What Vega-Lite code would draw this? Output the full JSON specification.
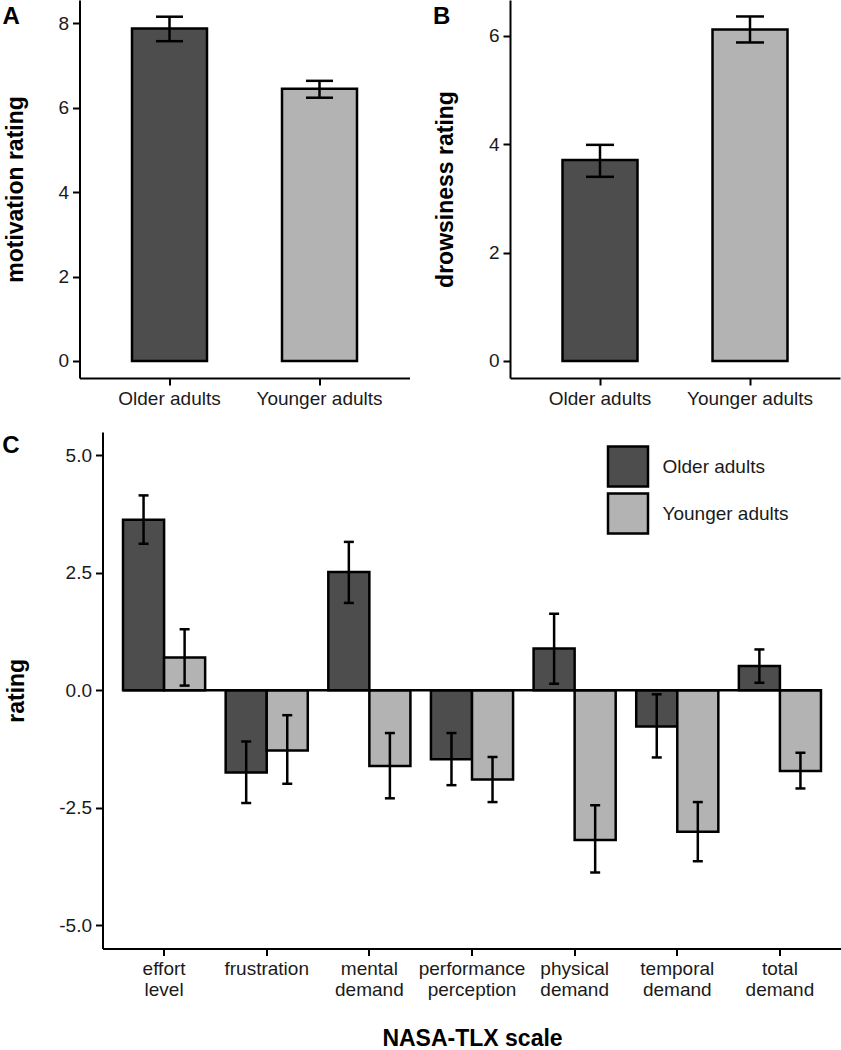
{
  "$schema": "https://vega.github.io/schema/vega-lite/v6.json",
  "background": "white",
  "padding": {"left": 1.5, "top": 0, "right": 0, "bottom": 0},
  "spacing": 24,
  "config": {
    "font": "Liberation Sans",
    "view": {"stroke": null},
    "axis": {
      "domainColor": "black", "domainWidth": 2, "tickColor": "black", "tickWidth": 2, "tickSize": 7,
      "labelFontSize": 19, "labelColor": "#1a1a1a", "labelPadding": 4, "labelFont": "Liberation Sans",
      "titleFontSize": 23, "titleFontWeight": "bold", "titleColor": "black", "titleFont": "Liberation Sans",
      "grid": false
    },
    "axisY": {"titlePadding": 30.5},
    "axisX": {"labelAngle": 0, "titlePadding": 28},
    "title": {"fontSize": 24, "fontWeight": "bold", "anchor": "start", "frame": "bounds", "baseline": "top", "color": "black", "font": "Liberation Sans"}
  },
  "resolve": {"scale": {"fill": "independent"}, "legend": {"fill": "independent"}},
  "vconcat": [
    {
      "spacing": 22.5,
      "hconcat": [
        {
          "width": 330, "height": 378,
          "title": {"text": "A", "offset": -29, "dx": -2},
          "data": {"values": [
            {"group": "Older adults", "value": 7.88, "lo": 7.58, "hi": 8.16},
            {"group": "Younger adults", "value": 6.45, "lo": 6.24, "hi": 6.64}
          ]},
          "encoding": {"x": {"field": "group", "type": "nominal", "title": null, "scale": {"paddingInner": 0.5, "paddingOuter": 0.35}}},
          "layer": [
            {"mark": {"type": "bar", "stroke": "black", "strokeWidth": 2.5, "opacity": 1},
             "encoding": {
               "y": {"field": "value", "type": "quantitative", "title": "motivation rating", "scale": {"domain": [-0.403, 8.556], "nice": false, "zero": false}, "axis": {"values": [0, 2, 4, 6, 8], "format": "d"}},
               "y2": {"datum": 0},
               "fill": {"field": "group", "type": "nominal", "scale": {"range": ["#4d4d4d", "#b3b3b3"]}, "legend": null}
             }},
            {"mark": {"type": "rule", "strokeWidth": 2.5, "color": "black", "opacity": 1},
             "encoding": {"y": {"field": "lo", "type": "quantitative", "title": "motivation rating"}, "y2": {"field": "hi"}}},
            {"mark": {"type": "tick", "size": 27, "thickness": 2.5, "color": "black", "opacity": 1},
             "encoding": {"y": {"field": "lo", "type": "quantitative", "title": "motivation rating"}}},
            {"mark": {"type": "tick", "size": 27, "thickness": 2.5, "color": "black", "opacity": 1},
             "encoding": {"y": {"field": "hi", "type": "quantitative", "title": "motivation rating"}}}
          ]
        },
        {
          "width": 330, "height": 378,
          "title": {"text": "B", "offset": -29, "dx": -2},
          "data": {"values": [
            {"group": "Older adults", "value": 3.71, "lo": 3.40, "hi": 3.99},
            {"group": "Younger adults", "value": 6.12, "lo": 5.88, "hi": 6.36}
          ]},
          "encoding": {"x": {"field": "group", "type": "nominal", "title": null, "scale": {"paddingInner": 0.5, "paddingOuter": 0.35}}},
          "layer": [
            {"mark": {"type": "bar", "stroke": "black", "strokeWidth": 2.5, "opacity": 1},
             "encoding": {
               "y": {"field": "value", "type": "quantitative", "title": "drowsiness rating", "scale": {"domain": [-0.314, 6.664], "nice": false, "zero": false}, "axis": {"values": [0, 2, 4, 6], "format": "d"}},
               "y2": {"datum": 0},
               "fill": {"field": "group", "type": "nominal", "scale": {"range": ["#4d4d4d", "#b3b3b3"]}, "legend": null}
             }},
            {"mark": {"type": "rule", "strokeWidth": 2.5, "color": "black", "opacity": 1},
             "encoding": {"y": {"field": "lo", "type": "quantitative", "title": "drowsiness rating"}, "y2": {"field": "hi"}}},
            {"mark": {"type": "tick", "size": 28, "thickness": 2.5, "color": "black", "opacity": 1},
             "encoding": {"y": {"field": "lo", "type": "quantitative", "title": "drowsiness rating"}}},
            {"mark": {"type": "tick", "size": 28, "thickness": 2.5, "color": "black", "opacity": 1},
             "encoding": {"y": {"field": "hi", "type": "quantitative", "title": "drowsiness rating"}}}
          ]
        }
      ]
    },
    {
      "width": 762, "height": 516.6,
      "title": {"text": "C", "offset": -25.8, "dx": -3},
      "data": {"values": [
        {"scale": "effort level", "group": "Older adults", "value": 3.63, "lo": 3.12, "hi": 4.15},
        {"scale": "effort level", "group": "Younger adults", "value": 0.70, "lo": 0.10, "hi": 1.30},
        {"scale": "frustration", "group": "Older adults", "value": -1.75, "lo": -2.40, "hi": -1.09},
        {"scale": "frustration", "group": "Younger adults", "value": -1.28, "lo": -1.99, "hi": -0.53},
        {"scale": "mental demand", "group": "Older adults", "value": 2.52, "lo": 1.86, "hi": 3.16},
        {"scale": "mental demand", "group": "Younger adults", "value": -1.61, "lo": -2.30, "hi": -0.91},
        {"scale": "performance perception", "group": "Older adults", "value": -1.47, "lo": -2.02, "hi": -0.91},
        {"scale": "performance perception", "group": "Younger adults", "value": -1.90, "lo": -2.38, "hi": -1.42},
        {"scale": "physical demand", "group": "Older adults", "value": 0.89, "lo": 0.14, "hi": 1.63},
        {"scale": "physical demand", "group": "Younger adults", "value": -3.19, "lo": -3.88, "hi": -2.45},
        {"scale": "temporal demand", "group": "Older adults", "value": -0.77, "lo": -1.43, "hi": -0.085},
        {"scale": "temporal demand", "group": "Younger adults", "value": -3.01, "lo": -3.64, "hi": -2.38},
        {"scale": "total demand", "group": "Older adults", "value": 0.52, "lo": 0.16, "hi": 0.87},
        {"scale": "total demand", "group": "Younger adults", "value": -1.72, "lo": -2.09, "hi": -1.33}
      ]},
      "encoding": {
        "x": {"field": "scale", "type": "nominal", "title": "NASA-TLX scale",
              "scale": {"domain": ["effort level", "frustration", "mental demand", "performance perception", "physical demand", "temporal demand", "total demand"], "range": [23, 762], "paddingInner": 0.2, "paddingOuter": 0.2},
              "axis": {"labelExpr": "split(datum.label, ' ')", "labelLineHeight": 20.5}}
      },
      "layer": [
        {"mark": {"type": "bar", "stroke": "black", "strokeWidth": 2.5, "opacity": 1},
         "encoding": {
           "xOffset": {"field": "group", "type": "nominal", "scale": {"paddingInner": 0, "paddingOuter": 0}},
           "y": {"field": "value", "type": "quantitative", "title": "rating", "scale": {"domain": [-5.5, 5.5], "nice": false, "zero": false}, "axis": {"values": [-5, -2.5, 0, 2.5, 5], "format": ".1f", "offset": -23, "labelExpr": "replace(datum.label, '\u2212', '-')"}},
           "y2": {"datum": 0},
           "fill": {"field": "group", "type": "nominal", "scale": {"range": ["#4d4d4d", "#b3b3b3"]},
                    "legend": {"title": null, "orient": "none", "legendX": 527, "legendY": 13, "symbolType": "square", "symbolSize": 1600,
                               "symbolStrokeColor": "black", "symbolStrokeWidth": 2.5, "symbolOpacity": 1, "labelFontSize": 19, "labelColor": "#1a1a1a",
                               "labelOffset": 13, "rowPadding": -10, "padding": 0, "labelFont": "Liberation Sans"}}
         }},
        {"data": {"values": [{"from": "effort level", "to": "total demand"}]},
         "mark": {"type": "rule", "strokeWidth": 2.5, "color": "black", "opacity": 1},
         "encoding": {
           "x": {"field": "from", "type": "nominal", "bandPosition": 0},
           "x2": {"field": "to", "bandPosition": 1},
           "y": {"datum": 0}
         }},
        {"mark": {"type": "rule", "strokeWidth": 2.5, "color": "black", "opacity": 1},
         "encoding": {
           "xOffset": {"field": "group", "type": "nominal"},
           "y": {"field": "lo", "type": "quantitative", "title": "rating"}, "y2": {"field": "hi"}}},
        {"mark": {"type": "tick", "size": 10, "thickness": 2.5, "color": "black", "opacity": 1},
         "encoding": {"xOffset": {"field": "group", "type": "nominal"}, "y": {"field": "lo", "type": "quantitative", "title": "rating"}}},
        {"mark": {"type": "tick", "size": 10, "thickness": 2.5, "color": "black", "opacity": 1},
         "encoding": {"xOffset": {"field": "group", "type": "nominal"}, "y": {"field": "hi", "type": "quantitative", "title": "rating"}}}
      ]
    }
  ]
}
